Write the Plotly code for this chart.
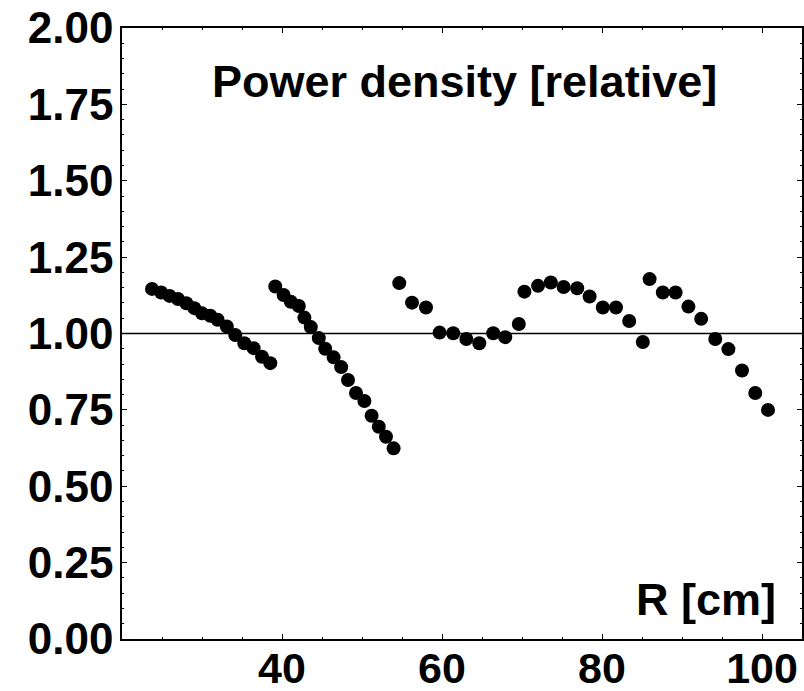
import plotly.graph_objects as go

# Segment 1
r1 = [23.75, 24.9, 25.95, 27.0, 28.04, 29.04, 30.0, 31.04, 31.95, 33.1, 34.16, 35.29, 36.45, 37.5, 38.54]
p1 = [1.146, 1.134, 1.123, 1.113, 1.099, 1.083, 1.066, 1.058, 1.045, 1.023, 0.995, 0.968, 0.952, 0.924, 0.903]
# Segment 2
r2 = [39.16, 40.2, 41.1, 42.1, 42.8, 43.6, 44.6, 45.4, 46.45, 47.4, 48.25, 49.25, 50.3, 51.2, 52.1, 53.0, 53.95]
p2 = [1.154, 1.126, 1.104, 1.090, 1.052, 1.021, 0.985, 0.950, 0.922, 0.890, 0.848, 0.805, 0.779, 0.731, 0.695, 0.662, 0.624]
# Segment 3
r3 = [54.66, 56.25, 58.0, 59.7, 61.4, 63.04, 64.66, 66.4, 67.9, 69.6, 70.3, 72.0, 73.6, 75.2, 76.9,
      78.45, 80.1, 81.75, 83.4, 85.1, 85.95, 87.6, 89.2, 90.8, 92.4, 94.16, 95.8, 97.5, 99.16, 100.75]
p3 = [1.165, 1.101, 1.085, 1.003, 1.001, 0.982, 0.968, 1.001, 0.988, 1.031, 1.137, 1.156, 1.167, 1.152, 1.148,
      1.121, 1.085, 1.085, 1.041, 0.972, 1.178, 1.134, 1.134, 1.088, 1.048, 0.982, 0.949, 0.879, 0.805, 0.750]

x_ticks = [40, 60, 80, 100]
y_ticks = [0, 0.25, 0.5, 0.75, 1.0, 1.25, 1.5, 1.75, 2.0]
y_labels = ["0.00", "0.25", "0.50", "0.75", "1.00", "1.25", "1.50", "1.75", "2.00"]
ref_level = 1.0

FONT = "Liberation Sans"

fig = go.Figure()
for xs, ys in [(r1, p1), (r2, p2), (r3, p3)]:
    fig.add_trace(go.Scatter(x=xs, y=ys, mode="markers",
                             marker=dict(color="black", size=14, line=dict(width=0)),
                             showlegend=False, hoverinfo="skip"))

fig.add_hline(y=ref_level, line=dict(color="black", width=1.5))

fig.update_layout(
    width=804, height=691,
    margin=dict(l=122, r=2, t=28, b=52),
    paper_bgcolor="white", plot_bgcolor="white",
    showlegend=False,
    xaxis=dict(range=[20, 105], tickvals=x_ticks, ticktext=[str(v) for v in x_ticks],
               automargin=False, ticklabelstandoff=-9,
               showgrid=False, zeroline=False, showline=True, linecolor="black", linewidth=1.5,
               mirror="ticks", ticks="inside", ticklen=5, tickwidth=1.2, tickcolor="black",
               tickfont=dict(family=FONT, size=43, color="black", weight="bold"),
               minor=dict(ticks="inside", ticklen=2, dtick=5, tickcolor="black", tickwidth=1)),
    yaxis=dict(range=[0, 2.0], tickvals=y_ticks, ticktext=y_labels,
               automargin=False, ticklabelstandoff=-2,
               showgrid=False, zeroline=False, showline=True, linecolor="black", linewidth=1.5,
               mirror="ticks", ticks="inside", ticklen=5, tickwidth=1.2, tickcolor="black",
               tickfont=dict(family=FONT, size=44, color="black", weight="bold"),
               minor=dict(ticks="inside", ticklen=2, dtick=0.05, tickcolor="black", tickwidth=1)),
    annotations=[
        dict(text="Power density [relative]", xref="paper", yref="paper", x=0.503, y=0.912,
             xanchor="center", yanchor="middle", showarrow=False,
             font=dict(family=FONT, size=45, color="black", weight="bold")),
        dict(text="R [cm]", xref="paper", yref="paper", x=0.965, y=0.064,
             xanchor="right", yanchor="middle", showarrow=False,
             font=dict(family=FONT, size=45, color="black", weight="bold")),
    ],
)

fig.write_html("out.html", config={"displayModeBar": False},
               post_script="document.body.style.margin='0';document.body.style.overflow='hidden';")
